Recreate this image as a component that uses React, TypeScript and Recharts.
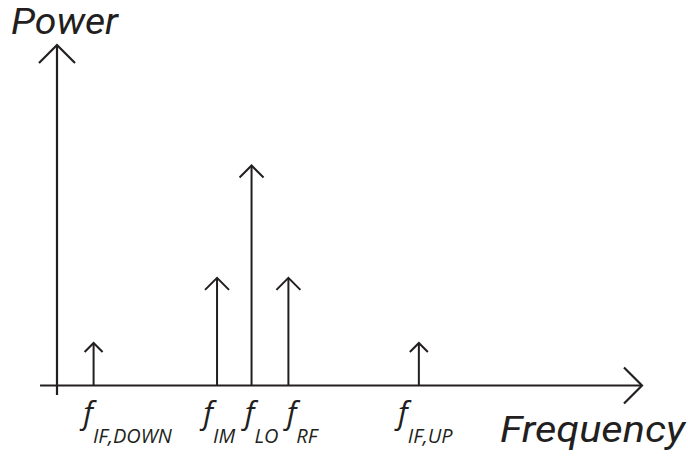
import React from 'react';
import { ComposedChart, Bar, XAxis, YAxis, ReferenceLine } from 'recharts';

// Spectral lines of a mixer: names, frequency positions and relative power
const spikeNames = ['IF,DOWN', 'IM', 'LO', 'RF', 'IF,UP'];
const spikeFreq = [6.3, 27.4, 33.3, 39.6, 61.9];
const spikePower = [12.5, 31.6, 64.6, 31.6, 12.5];

// Axis extents in data units (the axes overshoot the origin a little)
const xAxisFrom = -2.9;
const yAxisFrom = -2.8;
const axisTo = 100;

const data = spikeNames.map((name, i) => ({ name, freq: spikeFreq[i], power: spikePower[i] }));

const INK = '#231f20';
const FONT = '"Open Sans", "Noto Sans", sans-serif';
const TITLE_FONT = 'Roboto, "Open Sans", sans-serif';

// horizontal offset of each "f" label relative to its spike
const labelNudge = [-10.6, -14, -7, -2, -21];

const W = 688;
const H = 460;
const X_AXIS_H = 60;
const MARGIN = { top: 45, right: 46, left: 57, bottom: 14.5 };

function Spike(props: any) {
  const { x, y, width, height, payload } = props;
  if (!(height > 0)) return null;
  const cx = x + width / 2;
  const base = y + height;
  const head = payload.power < 20 ? 9 : 12;
  return (
    <g>
      <line x1={cx} y1={base} x2={cx} y2={y} stroke={INK} strokeWidth={2} />
      <polyline
        points={`${cx - head},${y + head} ${cx},${y} ${cx + head},${y + head}`}
        fill="none"
        stroke={INK}
        strokeWidth={2}
      />
    </g>
  );
}

function AxisArrow(props: any) {
  const { x1, y1, x2, y2 } = props;
  // the tip is the end that points right or up
  const firstIsTip = x1 - y1 > x2 - y2;
  const tx = firstIsTip ? x1 : x2;
  const ty = firstIsTip ? y1 : y2;
  const sx = firstIsTip ? x2 : x1;
  const sy = firstIsTip ? y2 : y1;
  const len = Math.hypot(tx - sx, ty - sy) || 1;
  const ux = (tx - sx) / len;
  const uy = (ty - sy) / len;
  const s = 18;
  const bx = tx - ux * s;
  const by = ty - uy * s;
  const px = -uy * s;
  const py = ux * s;
  return (
    <g>
      <line x1={sx} y1={sy} x2={tx} y2={ty} stroke={INK} strokeWidth={2.2} />
      <polyline
        points={`${bx + px},${by + py} ${tx},${ty} ${bx - px},${by - py}`}
        fill="none"
        stroke={INK}
        strokeWidth={2.2}
      />
    </g>
  );
}

function FreqTick(props: any) {
  const { x, y, index } = props;
  const name = spikeNames[index];
  return (
    <text
      x={x + labelNudge[index]}
      y={y + 38}
      fontFamily={FONT}
      fontStyle="italic"
      fill={INK}
      textAnchor="start"
    >
      <tspan fontSize={31}>f</tspan>
      <tspan fontSize={20} dy={19} dx={0}>
        {name}
      </tspan>
    </text>
  );
}

export default function App() {
  return (
    <div style={{ position: 'absolute', left: 0, top: 0, width: W, height: H, background: '#fff' }}>
      <ComposedChart width={W} height={H} data={data} margin={MARGIN}>
        <XAxis
          dataKey="freq"
          type="number"
          domain={[0, axisTo]}
          ticks={spikeFreq}
          interval={0}
          axisLine={false}
          tickLine={false}
          tickSize={0}
          tickMargin={0}
          height={X_AXIS_H}
          tick={<FreqTick />}
          allowDataOverflow
        />
        <YAxis type="number" domain={[0, axisTo]} hide allowDataOverflow />
        <ReferenceLine
          segment={[
            { x: xAxisFrom, y: 0 },
            { x: axisTo, y: 0 },
          ]}
          ifOverflow="visible"
          shape={AxisArrow}
        />
        <ReferenceLine
          segment={[
            { x: 0, y: yAxisFrom },
            { x: 0, y: axisTo },
          ]}
          ifOverflow="visible"
          shape={AxisArrow}
        />
        <Bar dataKey="power" barSize={4} shape={Spike} isAnimationActive={false} />
        <text
          x={11}
          y={34}
          fontFamily={TITLE_FONT}
          fontStyle="italic"
          fontSize={36}
          fill={INK}
          textLength={107}
          lengthAdjust="spacingAndGlyphs"
        >
          Power
        </text>
        <text
          x={500}
          y={442}
          fontFamily={TITLE_FONT}
          fontStyle="italic"
          fontSize={37}
          fill={INK}
          textLength={185}
          lengthAdjust="spacingAndGlyphs"
        >
          Frequency
        </text>
      </ComposedChart>
    </div>
  );
}
